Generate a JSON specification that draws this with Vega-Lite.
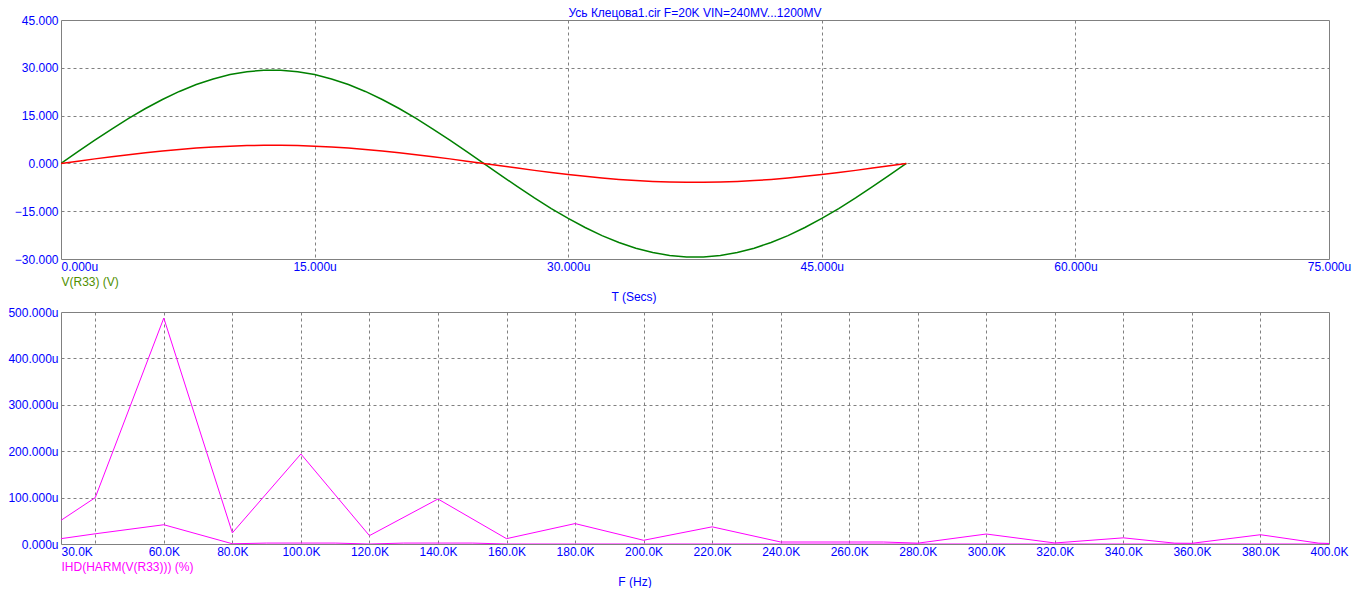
{
  "$schema": "https://vega.github.io/schema/vega-lite/v6.json",
  "padding": {"left": 7, "top": 6, "right": 0, "bottom": 0},
  "autosize": {"type": "pad"},
  "background": "white",
  "config": {
    "font": "Liberation Sans",
    "view": {"stroke": "#808080", "strokeWidth": 1},
    "axis": {"labelFont": "Liberation Sans", "labelFontSize": 12, "labelColor": "#0000ff", "domain": false, "ticks": false, "tickSize": 0, "gridColor": "#808080", "gridDash": [3, 3], "gridWidth": 1, "gridOpacity": 1, "labelFlush": false, "labelOverlap": false, "labelBound": false},
    "title": {"font": "Liberation Sans", "fontSize": 12, "fontWeight": "normal", "color": "#0000ff"},
    "concat": {"spacing": 2}
  },
  "title": {"text": "F (Hz)", "orient": "bottom", "frame": "group", "anchor": "start", "align": "center", "dx": 574, "offset": 4},
  "datasets": {
    "wave": [
      {"t":0,"s":"V(R33)","v":0},{"t":1,"s":"V(R33)","v":3.67},{"t":2,"s":"V(R33)","v":7.29},{"t":3,"s":"V(R33)","v":10.79},{"t":4,"s":"V(R33)","v":14.12},{"t":5,"s":"V(R33)","v":17.22},{"t":6,"s":"V(R33)","v":20.06},{"t":7,"s":"V(R33)","v":22.58},{"t":8,"s":"V(R33)","v":24.74},{"t":9,"s":"V(R33)","v":26.51},{"t":10,"s":"V(R33)","v":27.87},{"t":11,"s":"V(R33)","v":28.78},{"t":12,"s":"V(R33)","v":29.24},{"t":13,"s":"V(R33)","v":29.24},{"t":14,"s":"V(R33)","v":28.78},{"t":15,"s":"V(R33)","v":27.87},{"t":16,"s":"V(R33)","v":26.51},{"t":17,"s":"V(R33)","v":24.74},{"t":18,"s":"V(R33)","v":22.58},{"t":19,"s":"V(R33)","v":20.06},{"t":20,"s":"V(R33)","v":17.22},{"t":21,"s":"V(R33)","v":14.12},{"t":22,"s":"V(R33)","v":10.79},{"t":23,"s":"V(R33)","v":7.29},{"t":24,"s":"V(R33)","v":3.67},{"t":25,"s":"V(R33)","v":0},
      {"t":26,"s":"V(R33)","v":-3.68},{"t":27,"s":"V(R33)","v":-7.31},{"t":28,"s":"V(R33)","v":-10.82},{"t":29,"s":"V(R33)","v":-14.16},{"t":30,"s":"V(R33)","v":-17.28},{"t":31,"s":"V(R33)","v":-20.12},{"t":32,"s":"V(R33)","v":-22.65},{"t":33,"s":"V(R33)","v":-24.82},{"t":34,"s":"V(R33)","v":-26.6},{"t":35,"s":"V(R33)","v":-27.96},{"t":36,"s":"V(R33)","v":-28.88},{"t":37,"s":"V(R33)","v":-29.34},{"t":38,"s":"V(R33)","v":-29.34},{"t":39,"s":"V(R33)","v":-28.88},{"t":40,"s":"V(R33)","v":-27.96},{"t":41,"s":"V(R33)","v":-26.6},{"t":42,"s":"V(R33)","v":-24.82},{"t":43,"s":"V(R33)","v":-22.65},{"t":44,"s":"V(R33)","v":-20.12},{"t":45,"s":"V(R33)","v":-17.28},{"t":46,"s":"V(R33)","v":-14.16},{"t":47,"s":"V(R33)","v":-10.82},{"t":48,"s":"V(R33)","v":-7.31},{"t":49,"s":"V(R33)","v":-3.68},{"t":50,"s":"V(R33)","v":0},
      {"t":0,"s":"V(2)","v":0},{"t":1,"s":"V(2)","v":0.71},{"t":2,"s":"V(2)","v":1.42},{"t":3,"s":"V(2)","v":2.1},{"t":4,"s":"V(2)","v":2.75},{"t":5,"s":"V(2)","v":3.35},{"t":6,"s":"V(2)","v":3.9},{"t":7,"s":"V(2)","v":4.39},{"t":8,"s":"V(2)","v":4.81},{"t":9,"s":"V(2)","v":5.16},{"t":10,"s":"V(2)","v":5.42},{"t":11,"s":"V(2)","v":5.6},{"t":12,"s":"V(2)","v":5.69},{"t":13,"s":"V(2)","v":5.69},{"t":14,"s":"V(2)","v":5.6},{"t":15,"s":"V(2)","v":5.42},{"t":16,"s":"V(2)","v":5.16},{"t":17,"s":"V(2)","v":4.81},{"t":18,"s":"V(2)","v":4.39},{"t":19,"s":"V(2)","v":3.9},{"t":20,"s":"V(2)","v":3.35},{"t":21,"s":"V(2)","v":2.75},{"t":22,"s":"V(2)","v":2.1},{"t":23,"s":"V(2)","v":1.42},{"t":24,"s":"V(2)","v":0.71},{"t":25,"s":"V(2)","v":0},
      {"t":26,"s":"V(2)","v":-0.75},{"t":27,"s":"V(2)","v":-1.48},{"t":28,"s":"V(2)","v":-2.19},{"t":29,"s":"V(2)","v":-2.87},{"t":30,"s":"V(2)","v":-3.5},{"t":31,"s":"V(2)","v":-4.07},{"t":32,"s":"V(2)","v":-4.58},{"t":33,"s":"V(2)","v":-5.02},{"t":34,"s":"V(2)","v":-5.38},{"t":35,"s":"V(2)","v":-5.66},{"t":36,"s":"V(2)","v":-5.84},{"t":37,"s":"V(2)","v":-5.94},{"t":38,"s":"V(2)","v":-5.94},{"t":39,"s":"V(2)","v":-5.84},{"t":40,"s":"V(2)","v":-5.66},{"t":41,"s":"V(2)","v":-5.38},{"t":42,"s":"V(2)","v":-5.02},{"t":43,"s":"V(2)","v":-4.58},{"t":44,"s":"V(2)","v":-4.07},{"t":45,"s":"V(2)","v":-3.5},{"t":46,"s":"V(2)","v":-2.87},{"t":47,"s":"V(2)","v":-2.19},{"t":48,"s":"V(2)","v":-1.48},{"t":49,"s":"V(2)","v":-0.75},{"t":50,"s":"V(2)","v":0}
    ],
    "harm": [
      {"f":30,"s":"A","v":51},{"f":40,"s":"A","v":100},{"f":60,"s":"A","v":487},{"f":80,"s":"A","v":24},{"f":100,"s":"A","v":194},{"f":120,"s":"A","v":18},{"f":140,"s":"A","v":97},{"f":160,"s":"A","v":11.5},{"f":180,"s":"A","v":44},{"f":200,"s":"A","v":8},{"f":220,"s":"A","v":37},{"f":240,"s":"A","v":4.3},{"f":270,"s":"A","v":4.3},{"f":280,"s":"A","v":1.8},{"f":300,"s":"A","v":21.5},{"f":320,"s":"A","v":2.2},{"f":340,"s":"A","v":13.3},{"f":355,"s":"A","v":1.8},{"f":360,"s":"A","v":1.5},{"f":380,"s":"A","v":20},{"f":397,"s":"A","v":1.8},{"f":400,"s":"A","v":1.2},
      {"f":30,"s":"B","v":11.5},{"f":40,"s":"B","v":22},{"f":60,"s":"B","v":41.5},{"f":80,"s":"B","v":0.5},{"f":90,"s":"B","v":2},{"f":110,"s":"B","v":2},{"f":120,"s":"B","v":0},{"f":130,"s":"B","v":2},{"f":150,"s":"B","v":2},{"f":160,"s":"B","v":0},{"f":400,"s":"B","v":0}
    ]
  },
  "vconcat": [
    {
      "width": 1268,
      "height": 239,
      "title": {"text": "Усь Клецова1.cir F=20K VIN=240MV...1200MV", "anchor": "middle", "frame": "group", "offset": -6},
      "data": {"name": "wave"},
      "mark": {"type": "line", "strokeWidth": 1.5, "clip": true},
      "encoding": {
        "x": {"field": "t", "type": "quantitative", "scale": {"domain": [0, 75], "nice": false, "zero": false},
          "axis": {"values": [0, 15, 30, 45, 60, 75], "labelExpr": "format(datum.value, '.3f') + 'u'",
            "labelAlign": {"condition": {"test": "datum.value == 0", "value": "left"}, "value": "center"},
            "labelPadding": 2,
            "gridOpacity": {"condition": {"test": "datum.value == 0 || datum.value == 75", "value": 0}, "value": 1},
            "title": "V(R33) (V)", "titleAnchor": "start", "titleAlign": "left", "titleColor": "#4f8f00", "titlePadding": 4, "titleFontWeight": "normal", "titleFontSize": 12, "titleFont": "Liberation Sans"}},
        "y": {"field": "v", "type": "quantitative", "scale": {"domain": [-30, 45], "nice": false, "zero": false},
          "axis": {"values": [-30, -15, 0, 15, 30, 45], "labelExpr": "format(datum.value, '.3f')", "labelPadding": 3, "title": null,
            "gridOpacity": {"condition": {"test": "datum.value == -30 || datum.value == 45", "value": 0}, "value": 1}}},
        "color": {"field": "s", "type": "nominal", "scale": {"domain": ["V(R33)", "V(2)"], "range": ["#008000", "#ff0000"]}, "legend": null}
      }
    },
    {
      "width": 1268,
      "height": 232,
      "title": {"text": "T (Secs)", "anchor": "middle", "frame": "group", "offset": 2, "dx": -61},
      "data": {"name": "harm"},
      "mark": {"type": "line", "strokeWidth": 1, "clip": true, "color": "#ff00ff"},
      "encoding": {
        "x": {"field": "f", "type": "quantitative", "scale": {"domain": [30, 400], "nice": false, "zero": false},
          "axis": {"values": [30, 40, 60, 80, 100, 120, 140, 160, 180, 200, 220, 240, 260, 280, 300, 320, 340, 360, 380, 400],
            "labelExpr": "datum.value == 40 ? '' : format(datum.value, '.1f') + 'K'",
            "labelAlign": {"condition": {"test": "datum.value == 30", "value": "left"}, "value": "center"},
            "labelPadding": 2,
            "gridOpacity": {"condition": {"test": "datum.value == 30 || datum.value == 400", "value": 0}, "value": 1},
            "title": "IHD(HARM(V(R33))) (%)", "titleAnchor": "start", "titleAlign": "left", "titleColor": "#ff00ff", "titlePadding": 4, "titleFontWeight": "normal", "titleFontSize": 12, "titleFont": "Liberation Sans"}},
        "y": {"field": "v", "type": "quantitative", "scale": {"domain": [0, 500], "nice": false, "zero": false},
          "axis": {"values": [0, 100, 200, 300, 400, 500], "labelExpr": "format(datum.value, '.3f') + 'u'", "labelPadding": 3, "title": null,
            "gridOpacity": {"condition": {"test": "datum.value == 0 || datum.value == 500", "value": 0}, "value": 1}}},
        "detail": {"field": "s", "type": "nominal"}
      }
    }
  ]
}
